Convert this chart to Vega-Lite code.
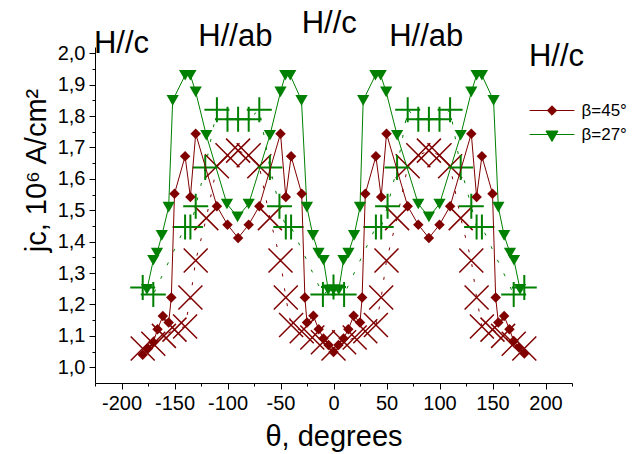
{
  "$schema": "https://vega.github.io/schema/vega-lite/v6.json",
  "width": 477,
  "height": 336,
  "autosize": {"type": "none"},
  "padding": {"left": 95, "top": 47, "right": 61, "bottom": 71},
  "config": {
    "view": {"stroke": null},
    "font": "Liberation Sans",
    "axis": {"grid": false, "domainColor": "black", "tickColor": "black", "labelColor": "black", "titleColor": "black", "labelFont": "Liberation Sans", "titleFont": "Liberation Sans", "titleFontWeight": "normal", "labelFontSize": 20, "titleFontSize": 29, "domainWidth": 1, "tickWidth": 1}
  },
  "datasets": {
    "main": [
      {"series": "β=45°", "theta": -180, "jc": 1.04}, {"series": "β=45°", "theta": -175, "jc": 1.06}, {"series": "β=45°", "theta": -170, "jc": 1.08},
      {"series": "β=45°", "theta": -166, "jc": 1.121}, {"series": "β=45°", "theta": -161, "jc": 1.163}, {"series": "β=45°", "theta": -155.5, "jc": 1.143},
      {"series": "β=45°", "theta": -153, "jc": 1.222}, {"series": "β=45°", "theta": -150, "jc": 1.553}, {"series": "β=45°", "theta": -140, "jc": 1.672},
      {"series": "β=45°", "theta": -135, "jc": 1.542}, {"series": "β=45°", "theta": -130, "jc": 1.744}, {"series": "β=45°", "theta": -110, "jc": 1.513},
      {"series": "β=45°", "theta": -100, "jc": 1.454}, {"series": "β=45°", "theta": -90, "jc": 1.412}, {"series": "β=45°", "theta": -80, "jc": 1.454},
      {"series": "β=45°", "theta": -70, "jc": 1.513}, {"series": "β=45°", "theta": -50, "jc": 1.744}, {"series": "β=45°", "theta": -45, "jc": 1.542},
      {"series": "β=45°", "theta": -40, "jc": 1.672}, {"series": "β=45°", "theta": -30, "jc": 1.553}, {"series": "β=45°", "theta": -27, "jc": 1.222},
      {"series": "β=45°", "theta": -25, "jc": 1.143}, {"series": "β=45°", "theta": -19, "jc": 1.164}, {"series": "β=45°", "theta": -14, "jc": 1.121},
      {"series": "β=45°", "theta": -9.5, "jc": 1.092}, {"series": "β=45°", "theta": -4.7, "jc": 1.071}, {"series": "β=45°", "theta": 0, "jc": 1.049},
      {"series": "β=45°", "theta": 4.7, "jc": 1.071}, {"series": "β=45°", "theta": 9.5, "jc": 1.092}, {"series": "β=45°", "theta": 14, "jc": 1.121},
      {"series": "β=45°", "theta": 19, "jc": 1.164}, {"series": "β=45°", "theta": 25, "jc": 1.143}, {"series": "β=45°", "theta": 27, "jc": 1.222},
      {"series": "β=45°", "theta": 30, "jc": 1.553}, {"series": "β=45°", "theta": 40, "jc": 1.672}, {"series": "β=45°", "theta": 45, "jc": 1.542},
      {"series": "β=45°", "theta": 50, "jc": 1.744}, {"series": "β=45°", "theta": 70, "jc": 1.513}, {"series": "β=45°", "theta": 80, "jc": 1.454},
      {"series": "β=45°", "theta": 90, "jc": 1.412}, {"series": "β=45°", "theta": 100, "jc": 1.454}, {"series": "β=45°", "theta": 110, "jc": 1.513},
      {"series": "β=45°", "theta": 130, "jc": 1.744}, {"series": "β=45°", "theta": 135, "jc": 1.542}, {"series": "β=45°", "theta": 140, "jc": 1.672},
      {"series": "β=45°", "theta": 150, "jc": 1.553}, {"series": "β=45°", "theta": 153, "jc": 1.222}, {"series": "β=45°", "theta": 155.5, "jc": 1.143},
      {"series": "β=45°", "theta": 161, "jc": 1.163}, {"series": "β=45°", "theta": 166, "jc": 1.121}, {"series": "β=45°", "theta": 170, "jc": 1.084},
      {"series": "β=45°", "theta": 175, "jc": 1.063}, {"series": "β=45°", "theta": 180, "jc": 1.044},
      {"series": "β=27°", "theta": -176, "jc": 1.248}, {"series": "β=27°", "theta": -170, "jc": 1.341}, {"series": "β=27°", "theta": -166.5, "jc": 1.364},
      {"series": "β=27°", "theta": -162, "jc": 1.42}, {"series": "β=27°", "theta": -155.5, "jc": 1.51}, {"series": "β=27°", "theta": -151.7, "jc": 1.85},
      {"series": "β=27°", "theta": -140, "jc": 1.93}, {"series": "β=27°", "theta": -135, "jc": 1.93}, {"series": "β=27°", "theta": -130, "jc": 1.877},
      {"series": "β=27°", "theta": -120, "jc": 1.739}, {"series": "β=27°", "theta": -100.5, "jc": 1.52}, {"series": "β=27°", "theta": -90.5, "jc": 1.479},
      {"series": "β=27°", "theta": -80, "jc": 1.52}, {"series": "β=27°", "theta": -60, "jc": 1.739}, {"series": "β=27°", "theta": -50, "jc": 1.877},
      {"series": "β=27°", "theta": -45.5, "jc": 1.93}, {"series": "β=27°", "theta": -40.8, "jc": 1.93}, {"series": "β=27°", "theta": -30.2, "jc": 1.85},
      {"series": "β=27°", "theta": -25.1, "jc": 1.51}, {"series": "β=27°", "theta": -19.4, "jc": 1.42}, {"series": "β=27°", "theta": -14.1, "jc": 1.364},
      {"series": "β=27°", "theta": -9.4, "jc": 1.341}, {"series": "β=27°", "theta": -5, "jc": 1.247}, {"series": "β=27°", "theta": 0, "jc": 1.247},
      {"series": "β=27°", "theta": 5, "jc": 1.247}, {"series": "β=27°", "theta": 9.4, "jc": 1.341}, {"series": "β=27°", "theta": 14.1, "jc": 1.364},
      {"series": "β=27°", "theta": 19.4, "jc": 1.42}, {"series": "β=27°", "theta": 25, "jc": 1.51}, {"series": "β=27°", "theta": 28, "jc": 1.85},
      {"series": "β=27°", "theta": 39.5, "jc": 1.93}, {"series": "β=27°", "theta": 44.5, "jc": 1.93}, {"series": "β=27°", "theta": 49.7, "jc": 1.877},
      {"series": "β=27°", "theta": 60, "jc": 1.739}, {"series": "β=27°", "theta": 80, "jc": 1.52}, {"series": "β=27°", "theta": 90, "jc": 1.479},
      {"series": "β=27°", "theta": 100, "jc": 1.52}, {"series": "β=27°", "theta": 120, "jc": 1.739}, {"series": "β=27°", "theta": 130, "jc": 1.877},
      {"series": "β=27°", "theta": 135, "jc": 1.93}, {"series": "β=27°", "theta": 140, "jc": 1.93}, {"series": "β=27°", "theta": 151, "jc": 1.85},
      {"series": "β=27°", "theta": 155.5, "jc": 1.51}, {"series": "β=27°", "theta": 161, "jc": 1.42}, {"series": "β=27°", "theta": 166.5, "jc": 1.364},
      {"series": "β=27°", "theta": 170.3, "jc": 1.341}, {"series": "β=27°", "theta": 176, "jc": 1.248}
    ],
    "xs": [
      {"theta": -180, "jc": 1.06}, {"theta": -170, "jc": 1.075}, {"theta": -160, "jc": 1.1}, {"theta": -150, "jc": 1.12}, {"theta": -140, "jc": 1.13},
      {"theta": -135, "jc": 1.222}, {"theta": -130, "jc": 1.34}, {"theta": -120, "jc": 1.475}, {"theta": -110, "jc": 1.64}, {"theta": -100, "jc": 1.675},
      {"theta": -90, "jc": 1.69}, {"theta": -80, "jc": 1.675}, {"theta": -70, "jc": 1.64}, {"theta": -60, "jc": 1.475}, {"theta": -50, "jc": 1.34},
      {"theta": -45, "jc": 1.222}, {"theta": -40, "jc": 1.135}, {"theta": -30, "jc": 1.115}, {"theta": -20, "jc": 1.095}, {"theta": -10, "jc": 1.08},
      {"theta": 0, "jc": 1.06}, {"theta": 10, "jc": 1.08}, {"theta": 20, "jc": 1.095}, {"theta": 30, "jc": 1.115}, {"theta": 40, "jc": 1.135},
      {"theta": 45, "jc": 1.222}, {"theta": 50, "jc": 1.34}, {"theta": 60, "jc": 1.475}, {"theta": 70, "jc": 1.64}, {"theta": 80, "jc": 1.675},
      {"theta": 90, "jc": 1.69}, {"theta": 100, "jc": 1.675}, {"theta": 110, "jc": 1.64}, {"theta": 120, "jc": 1.475}, {"theta": 130, "jc": 1.34},
      {"theta": 135, "jc": 1.222}, {"theta": 140, "jc": 1.13}, {"theta": 150, "jc": 1.12}, {"theta": 160, "jc": 1.1}, {"theta": 170, "jc": 1.075},
      {"theta": 180, "jc": 1.06}
    ],
    "plus": [
      {"theta": -180, "jc": 1.254}, {"theta": -170, "jc": 1.232}, {"theta": -140, "jc": 1.447}, {"theta": -135, "jc": 1.447}, {"theta": -130, "jc": 1.513},
      {"theta": -121, "jc": 1.636}, {"theta": -110, "jc": 1.82}, {"theta": -100, "jc": 1.79}, {"theta": -90, "jc": 1.79}, {"theta": -80, "jc": 1.79},
      {"theta": -70, "jc": 1.82}, {"theta": -60, "jc": 1.636}, {"theta": -51, "jc": 1.513}, {"theta": -45, "jc": 1.447}, {"theta": -40, "jc": 1.447},
      {"theta": -10, "jc": 1.232}, {"theta": 0, "jc": 1.256}, {"theta": 10, "jc": 1.232}, {"theta": 40, "jc": 1.447}, {"theta": 45, "jc": 1.447},
      {"theta": 51, "jc": 1.513}, {"theta": 60, "jc": 1.636}, {"theta": 70, "jc": 1.82}, {"theta": 80, "jc": 1.79}, {"theta": 90, "jc": 1.79},
      {"theta": 100, "jc": 1.79}, {"theta": 110, "jc": 1.82}, {"theta": 120, "jc": 1.636}, {"theta": 130, "jc": 1.513}, {"theta": 135, "jc": 1.447},
      {"theta": 140, "jc": 1.447}, {"theta": 170, "jc": 1.232}, {"theta": 180, "jc": 1.254}
    ],
    "notes": [
      {"label": "H//c", "theta": -226, "jc": 2.0},
      {"label": "H//ab", "theta": -127.5, "jc": 2.024},
      {"label": "H//c", "theta": -30, "jc": 2.066},
      {"label": "H//ab", "theta": 52.5, "jc": 2.024},
      {"label": "H//c", "theta": 184.4, "jc": 1.96}
    ]
  },
  "encoding": {
    "x": {
      "field": "theta", "type": "quantitative",
      "scale": {"domain": [-225, 225], "nice": false, "zero": false},
      "axis": {
        "title": "θ, degrees",
        "values": [-225, -200, -175, -150, -125, -100, -75, -50, -25, 0, 25, 50, 75, 100, 125, 150, 175, 200, 225],
        "labelExpr": "datum.value % 50 === 0 ? '' + datum.value : ''",
        "tickSize": {"condition": {"test": "datum.value % 50 === 0", "value": 6}, "value": 3},
        "labelPadding": 4, "titlePadding": 9, "labelFlush": false, "labelOverlap": false
      }
    },
    "y": {
      "field": "jc", "type": "quantitative",
      "scale": {"domain": [0.95, 2.02], "nice": false, "zero": false},
      "axis": {
        "title": "jc, 10⁶ A/cm²",
        "titleY": 123,
        "values": [1.0, 1.05, 1.1, 1.15, 1.2, 1.25, 1.3, 1.35, 1.4, 1.45, 1.5, 1.55, 1.6, 1.65, 1.7, 1.75, 1.8, 1.85, 1.9, 1.95, 2.0],
        "labelExpr": "round(datum.value * 100) % 10 === 0 ? replace(format(datum.value, '.1f'), '.', ',') : ''",
        "tickSize": {"condition": {"test": "round(datum.value * 100) % 10 === 0", "value": 6}, "value": 3},
        "labelPadding": 4, "titlePadding": 6, "labelOverlap": false
      }
    }
  },
  "layer": [
    {
      "data": {"name": "xs"},
      "mark": {"type": "line", "color": "#800000", "strokeWidth": 1, "strokeDash": [3, 12]}
    },
    {
      "data": {"name": "plus"},
      "mark": {"type": "line", "color": "#008000", "strokeWidth": 1, "strokeDash": [3, 12]}
    },
    {
      "data": {"name": "xs"},
      "mark": {"type": "point", "shape": "M-1,-1L1,1M-1,1L1,-1", "filled": false, "stroke": "#800000", "strokeWidth": 1.5, "size": 576, "opacity": 1}
    },
    {
      "data": {"name": "plus"},
      "mark": {"type": "point", "shape": "M-1,0L1,0M0,-1L0,1", "filled": false, "stroke": "#008000", "strokeWidth": 2, "size": 625, "opacity": 1}
    },
    {
      "data": {"name": "main"},
      "mark": {"type": "line", "strokeWidth": 1},
      "encoding": {
        "color": {
          "field": "series", "type": "nominal",
          "scale": {"domain": ["β=45°", "β=27°"], "range": ["#800000", "#008000"]},
          "legend": {
            "orient": "none", "legendX": 442.5, "legendY": 49, "title": null, "padding": 0,
            "symbolSize": 784, "symbolStrokeWidth": 1, "symbolType": "M-1.6,0L1.6,0",
            "labelFont": "Liberation Sans", "labelFontSize": 17, "labelColor": "black", "labelOffset": 15, "rowPadding": 1,
            "encode": {
              "symbols": {
                "update": {
                  "shape": {"signal": "datum.value === 'β=45°' ? 'M-1.6,0L1.6,0M0,-0.34L0.34,0L0,0.34L-0.34,0Z' : 'M-1.6,0L1.6,0M-0.43,-0.25L0.43,-0.25L0,0.5Z'"},
                  "fill": {"signal": "datum.value === 'β=45°' ? '#800000' : '#008000'"},
                  "stroke": {"signal": "datum.value === 'β=45°' ? '#800000' : '#008000'"},
                  "opacity": {"value": 1}
                }
              }
            }
          }
        }
      }
    },
    {
      "data": {"name": "main"},
      "transform": [{"filter": "datum.series === 'β=45°'"}],
      "mark": {"type": "point", "shape": "diamond", "filled": true, "color": "#800000", "size": 110, "opacity": 1}
    },
    {
      "data": {"name": "main"},
      "transform": [{"filter": "datum.series === 'β=27°'"}],
      "mark": {"type": "point", "shape": "triangle-down", "filled": true, "color": "#008000", "size": 150, "opacity": 1}
    },
    {
      "data": {"name": "notes"},
      "mark": {"type": "text", "align": "left", "baseline": "alphabetic", "font": "Liberation Sans", "fontSize": 31, "color": "black"},
      "encoding": {"text": {"field": "label", "type": "nominal"}}
    }
  ]
}
